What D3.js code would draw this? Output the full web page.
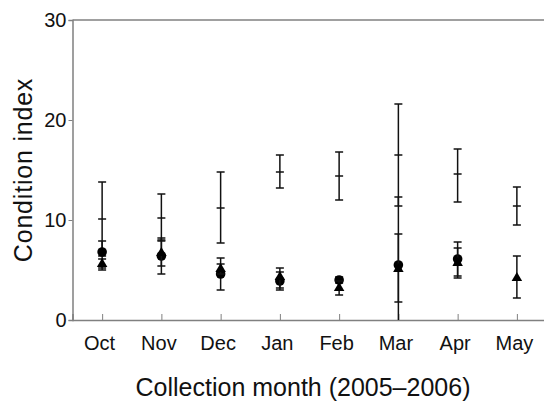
<!DOCTYPE html>
<html>
<head>
<meta charset="utf-8">
<script src="https://cdn.jsdelivr.net/npm/d3@7"></script>
<style>
  body { margin: 0; background: #fff; }
  text { font-family: "Liberation Sans", Arial, sans-serif; fill: #111; }
</style>
</head>
<body>
<div id="chart"></div>
<script>
//size
const width = 544;
const height = 402;
const margin = { top: 20, right: -2.5, bottom: 82, left: 72.5 };

//months
const months = ["Oct", "Nov", "Dec", "Jan", "Feb", "Mar", "Apr", "May"];
const yTicks = [0, 10, 20, 30];

//series "+" : mean, lower, upper
const plusMean = [10.1, 10.2, 11.2, 14.8, 14.4, 16.5, 14.6, 11.4];
const plusLo = [6.4, 7.9, 7.7, 13.2, 12.0, 11.4, 11.8, 9.5];
const plusHi = [13.8, 12.6, 14.8, 16.5, 16.8, 21.6, 17.1, 13.3];

//series circle
const circMean = [6.8, 6.4, 4.6, 3.9, 4.0, 5.5, 6.1, null];
const circLo = [5.2, 4.6, 3.0, 3.0, 3.7, -1.3, 4.4, null];
const circHi = [7.9, 8.2, 6.2, 4.8, 4.3, 12.3, 7.8, null];

//series triangle
const triMean = [5.6, 6.7, 5.1, 4.3, 3.2, 5.1, 5.7, 4.2];
const triLo = [5.0, 5.4, 4.6, 3.2, 2.5, 1.8, 4.2, 2.2];
const triHi = [6.1, 8.0, 5.6, 5.2, 3.9, 8.6, 7.2, 6.4];

const x = d3.scalePoint()
  .domain(months)
  .range([margin.left, width - margin.right])
  .padding(0.5);

const y = d3.scaleLinear()
  .domain([0, 30])
  .range([height - margin.bottom, margin.top]);

const svg = d3.select("#chart")
  .append("svg")
  .attr("width", width)
  .attr("height", height);

const axisColor = "#808080";

//top frame line
svg.append("line")
  .attr("x1", margin.left).attr("x2", width)
  .attr("y1", y(30)).attr("y2", y(30))
  .attr("stroke", axisColor).attr("stroke-width", 1.5);

//x axis with inward ticks
const gx = svg.append("g")
  .attr("transform", `translate(0,${y(0)})`)
  .call(d3.axisBottom(x).tickSize(-6).tickPadding(16));
gx.select(".domain").attr("stroke", axisColor).attr("stroke-width", 1.5);
gx.selectAll(".tick line").attr("stroke", axisColor).attr("stroke-width", 1);
gx.selectAll(".tick text")
  .attr("dx", -3)
  .attr("font-size", "20px")
  .attr("font-family", "Liberation Sans, Arial, sans-serif")
  .attr("fill", "#111");

//y axis with outward ticks
const gy = svg.append("g")
  .attr("transform", `translate(${margin.left},0)`)
  .call(d3.axisLeft(y).tickValues(yTicks).tickSize(4).tickPadding(2));
gy.select(".domain").attr("stroke", axisColor).attr("stroke-width", 1.5);
gy.selectAll(".tick line").attr("stroke", axisColor).attr("stroke-width", 1);
gy.selectAll(".tick text")
  .attr("font-size", "20px")
  .attr("font-family", "Liberation Sans, Arial, sans-serif")
  .attr("fill", "#111");

//axis titles
svg.append("text")
  .attr("x", 303)
  .attr("y", 396)
  .attr("text-anchor", "middle")
  .attr("font-size", "25px")
  .text("Collection month (2005\u20132006)");

svg.append("text")
  .attr("transform", `translate(32,${170}) rotate(-90)`)
  .attr("text-anchor", "middle")
  .attr("font-size", "25px")
  .attr("letter-spacing", "0.8px")
  .text("Condition index");

//error bars
const capHalf = 4;
const plotBottom = y(0);

function errorBars(mean, lo, hi) {
  const rows = months
    .map((m, i) => ({ m, mean: mean[i], lo: lo[i], hi: hi[i] }))
    .filter((d) => d.mean != null);

  const g = svg.append("g").attr("stroke", "#111").attr("stroke-width", 1.5);

  g.selectAll("line.bar")
    .data(rows)
    .enter()
    .append("line")
    .attr("class", "bar")
    .attr("x1", (d) => x(d.m)).attr("x2", (d) => x(d.m))
    .attr("y1", (d) => Math.min(y(d.lo), plotBottom))
    .attr("y2", (d) => y(d.hi));

  const caps = [];
  rows.forEach((d) => {
    caps.push({ m: d.m, v: d.hi });
    if (d.lo >= 0) caps.push({ m: d.m, v: d.lo });
  });

  g.selectAll("line.cap")
    .data(caps)
    .enter()
    .append("line")
    .attr("class", "cap")
    .attr("x1", (d) => x(d.m) - capHalf).attr("x2", (d) => x(d.m) + capHalf)
    .attr("y1", (d) => y(d.v)).attr("y2", (d) => y(d.v));

  return rows;
}

//"+" series
const plusRows = errorBars(plusMean, plusLo, plusHi);
svg.append("g")
  .selectAll("line")
  .data(plusRows)
  .enter()
  .append("line")
  .attr("x1", (d) => x(d.m) - capHalf).attr("x2", (d) => x(d.m) + capHalf)
  .attr("y1", (d) => y(d.mean)).attr("y2", (d) => y(d.mean))
  .attr("stroke", "#111").attr("stroke-width", 1.5);

//circle series
const circRows = errorBars(circMean, circLo, circHi);
svg.append("g")
  .selectAll("circle")
  .data(circRows)
  .enter()
  .append("circle")
  .attr("cx", (d) => x(d.m))
  .attr("cy", (d) => y(d.mean))
  .attr("r", 4.8)
  .attr("fill", "#000");

//triangle series
const triRows = errorBars(triMean, triLo, triHi);
const tri = d3.symbol().type(d3.symbolTriangle).size(48);
svg.append("g")
  .selectAll("path")
  .data(triRows)
  .enter()
  .append("path")
  .attr("transform", (d) => `translate(${x(d.m)},${y(d.mean)})`)
  .attr("d", tri)
  .attr("fill", "#000");
</script>
</body>
</html>
